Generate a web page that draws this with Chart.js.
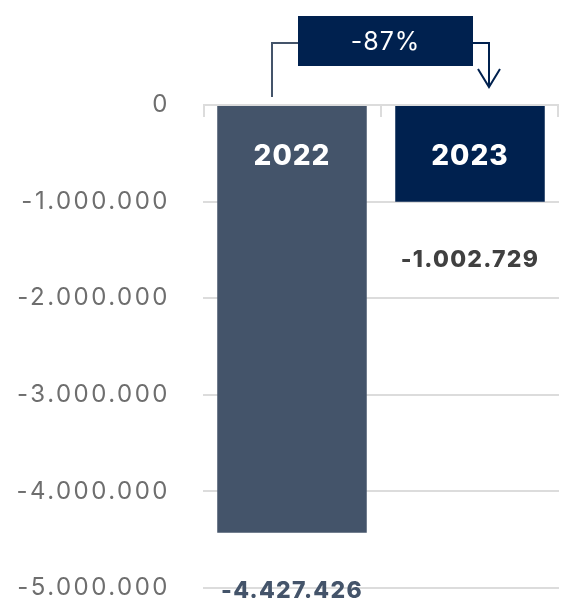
<!DOCTYPE html>
<html>
<head>
<meta charset="utf-8">
<script src="https://cdn.jsdelivr.net/npm/chart.js@4"></script>
<style>
  html, body { margin: 0; padding: 0; background: #ffffff; overflow: hidden; }
  canvas { display: block; }
</style>
</head>
<body>
<canvas id="c" width="561" height="601" style="width:561px;height:601px"></canvas>
<script>
const categories = ['2022', '2023'];
const values = [-4427426, -1002729];
const barColors = ['#44546A', '#00214F'];
const valueLabelColors = ['#44546A', '#404040'];
const changeLabel = '-87%';
const yMin = -5000000;
const yMax = 0;
const yStep = 1000000;

function fmt(v) {
  const neg = v < 0;
  const s = Math.round(Math.abs(v)).toString().replace(/\B(?=(\d{3})+(?!\d))/g, '.');
  return (neg ? '-' : '') + s;
}

const FONT = 'Inter, "Open Sans", sans-serif';
const GRID = '#dcdcdc';

const spacingPlugin = {
  id: 'spacing',
  beforeDraw(chart) { chart.ctx.letterSpacing = '2.5px'; },
  beforeDatasetsDraw(chart) { chart.ctx.letterSpacing = '0px'; }
};

const labelPlugin = {
  id: 'labels',
  afterDatasetsDraw(chart) {
    const ctx = chart.ctx;
    const meta = chart.getDatasetMeta(0);
    const y = chart.scales.y;
    const zeroY = y.getPixelForValue(0);
    ctx.save();

    ctx.strokeStyle = GRID;
    ctx.lineWidth = 2;
    const area = chart.chartArea;
    const half = (meta.data[1].x - meta.data[0].x) / 2;
    [area.left + 1, meta.data[0].x + half, area.right - 1].forEach(px => {
      ctx.beginPath();
      ctx.moveTo(px, zeroY);
      ctx.lineTo(px, zeroY + 12);
      ctx.stroke();
    });

    ctx.textAlign = 'center';
    ctx.textBaseline = 'middle';
    meta.data.forEach((bar, i) => {
      ctx.fillStyle = '#ffffff';
      ctx.font = '800 28px ' + FONT;
      ctx.letterSpacing = '1px';
      ctx.fillText(categories[i], bar.x, zeroY + 52);
      ctx.fillStyle = valueLabelColors[i];
      ctx.font = '800 23px ' + FONT;
      ctx.letterSpacing = '1.3px';
      ctx.fillText(fmt(values[i]), bar.x, bar.y + 58);
    });

    const b0 = meta.data[0], b1 = meta.data[1];
    const lx = b0.x - 20;
    const rx = b1.x + 19;
    const lineY = 43;
    const boxL = b0.x + 6, boxR = b1.x + 3;
    const boxT = 16, boxB = 66;
    ctx.lineWidth = 2;
    ctx.strokeStyle = '#44546A';
    ctx.beginPath();
    ctx.moveTo(lx, zeroY - 8);
    ctx.lineTo(lx, lineY);
    ctx.lineTo(boxL, lineY);
    ctx.stroke();
    ctx.strokeStyle = '#00214F';
    ctx.beginPath();
    ctx.moveTo(boxR, lineY);
    ctx.lineTo(rx, lineY);
    ctx.lineTo(rx, zeroY - 18);
    ctx.stroke();
    ctx.beginPath();
    ctx.moveTo(rx - 11, zeroY - 36);
    ctx.lineTo(rx, zeroY - 18);
    ctx.lineTo(rx + 11, zeroY - 36);
    ctx.stroke();
    ctx.fillStyle = '#00214F';
    ctx.fillRect(boxL, boxT, boxR - boxL, boxB - boxT);
    ctx.fillStyle = '#ffffff';
    ctx.font = '400 25px ' + FONT;
    ctx.letterSpacing = '1px';
    ctx.fillText(changeLabel, (boxL + boxR) / 2, (boxT + boxB) / 2 + 1);
    ctx.restore();
  }
};

new Chart(document.getElementById('c'), {
  type: 'bar',
  data: {
    labels: categories,
    datasets: [{
      data: values,
      backgroundColor: barColors,
      borderWidth: 0,
      barPercentage: 0.84,
      categoryPercentage: 1.0
    }]
  },
  options: {
    responsive: false,
    maintainAspectRatio: false,
    animation: false,
    layout: { padding: { top: 105, bottom: 13, left: 0, right: 2 } },
    plugins: { legend: { display: false }, tooltip: { enabled: false } },
    scales: {
      x: { display: false },
      y: {
        min: yMin,
        max: yMax,
        afterFit(scale) {
          scale.width = 203;
          scale.paddingTop = 0;
          scale.paddingBottom = 13;
        },
        grid: { color: GRID, lineWidth: 2, drawTicks: false },
        border: { display: false },
        ticks: {
          stepSize: yStep,
          padding: 33,
          color: '#6e6e6e',
          font: { family: FONT, size: 24, weight: '400' },
          callback: (v) => fmt(v)
        }
      }
    }
  },
  plugins: [spacingPlugin, labelPlugin]
});
</script>
</body>
</html>
